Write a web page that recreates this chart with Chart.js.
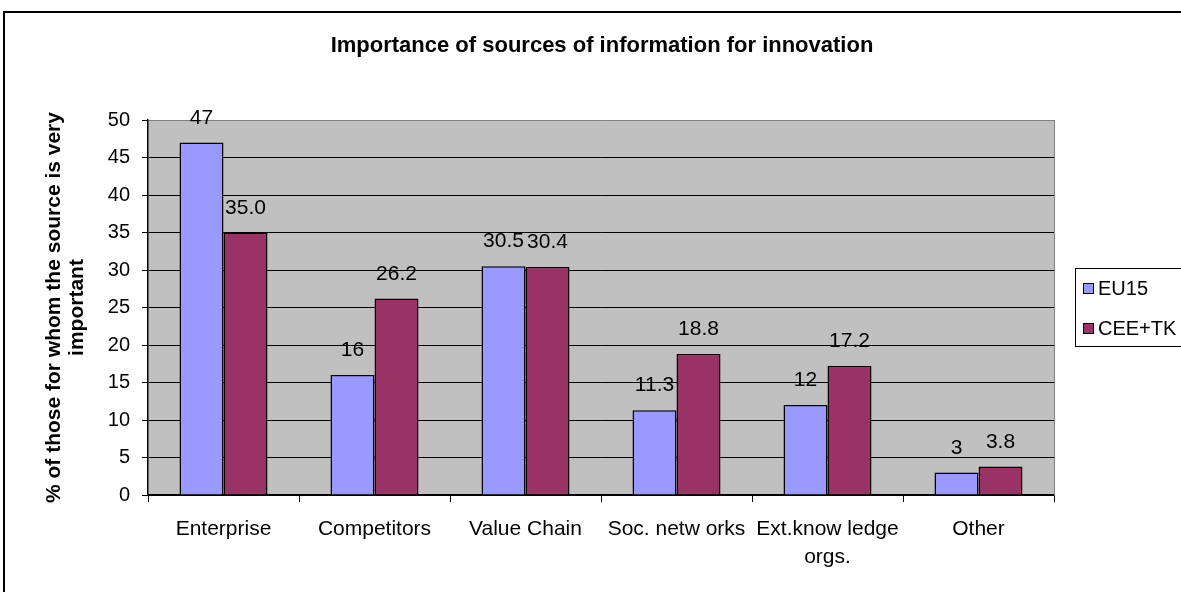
<!DOCTYPE html>
<html>
<head>
<meta charset="utf-8">
<script src="https://cdn.jsdelivr.net/npm/chart.js@4/dist/chart.umd.min.js"></script>
<style>
  html, body { margin: 0; padding: 0; background: #fff; overflow: hidden; }
  #frame { position: absolute; left: 3px; top: 11px; width: 1400px; height: 800px; border: 2px solid #000; }
  #chart { position: absolute; left: 0; top: 0; }
</style>
</head>
<body>
<div id="frame"></div>
<canvas id="chart" width="1181" height="592"></canvas>
<script>
// Importance of sources of information for innovation (EU15 vs CEE+TK)

const TITLE = "Importance of sources of information for innovation";
const Y_TITLE = ["% of those for whom the source is very", "important"];

const categories = ["Enterprise", "Competitors", "Value Chain", "Soc. netw orks", ["Ext.know ledge", "orgs."], "Other"];
const eu15 = [47, 16, 30.5, 11.3, 12, 3];
const ceeTk = [35.0, 26.2, 30.4, 18.8, 17.2, 3.8];

const FONT = "'Liberation Sans', Arial, sans-serif";

// fond gris de la zone de tracé + bord droit gris
const plotBg = {
  id: "plotBg",
  beforeDraw(chart) {
    const { ctx, chartArea: a } = chart;
    ctx.save();
    ctx.fillStyle = "#c0c0c0";
    ctx.fillRect(a.left, a.top, a.right - a.left, a.bottom - a.top);
    ctx.restore();
  },
  beforeDatasetsDraw(chart) {
    const { ctx, chartArea: a } = chart;
    ctx.save();
    ctx.strokeStyle = "#808080";
    ctx.lineWidth = 1;
    ctx.beginPath();
    ctx.moveTo(a.right + 0.5, a.top);
    ctx.lineTo(a.right + 0.5, a.bottom);
    ctx.stroke();
    ctx.restore();
  },
};

// titre, étiquettes de valeurs, légende encadrée
const extras = {
  id: "extras",
  afterDraw(chart) {
    const ctx = chart.ctx;
    ctx.save();
    ctx.fillStyle = "#000";
    ctx.font = "bold 22px " + FONT;
    ctx.textAlign = "center";
    ctx.textBaseline = "middle";
    ctx.fillText(TITLE, 602, 46);

    // valeurs au-dessus des barres
    ctx.font = "21px " + FONT;
    ctx.textBaseline = "alphabetic";
    chart.data.datasets.forEach((ds, i) => {
      chart.getDatasetMeta(i).data.forEach((bar, j) => {
        const v = ds.data[j];
        const txt = i === 0 ? String(v) : v.toFixed(1);
        ctx.fillText(txt, bar.x, bar.y - 19);
      });
    });

    // légende
    ctx.fillStyle = "#fff";
    ctx.strokeStyle = "#000";
    ctx.lineWidth = 1;
    ctx.fillRect(1075.5, 268.5, 200, 78);
    ctx.strokeRect(1075.5, 268.5, 200, 78);
    ctx.font = "20px " + FONT;
    ctx.textAlign = "left";
    ctx.textBaseline = "middle";
    chart.data.datasets.forEach((ds, i) => {
      const y = 283 + i * 40;
      ctx.fillStyle = ds.backgroundColor;
      ctx.fillRect(1083.5, y + 0.5, 10, 10);
      ctx.strokeRect(1083.5, y + 0.5, 10, 10);
      ctx.fillStyle = "#000";
      ctx.fillText(ds.label, 1098, y + 6);
    });
    ctx.restore();
  },
};

Chart.defaults.font.family = FONT;
Chart.defaults.color = "#000";

new Chart(document.getElementById("chart"), {
  type: "bar",
  data: {
    labels: categories,
    datasets: [
      { label: "EU15", data: eu15, backgroundColor: "#9999ff", borderColor: "#000", borderWidth: 1.5 },
      { label: "CEE+TK", data: ceeTk, backgroundColor: "#993366", borderColor: "#000", borderWidth: 1.5 },
    ],
  },
  options: {
    responsive: false,
    animation: false,
    layout: { padding: { top: 120, right: 127, bottom: 0, left: 0 } },
    categoryPercentage: 0.583,
    barPercentage: 1,
    plugins: {
      legend: { display: false },
      tooltip: { enabled: false },
    },
    scales: {
      y: {
        min: 0,
        max: 50,
        afterFit: (s) => { s.width = 148; },
        ticks: { stepSize: 5, padding: 12, font: { size: 20 }, color: "#000" },
        grid: {
          color: (c) => (c.tick && c.tick.value === 50 ? "#808080" : "#000"),
          tickColor: "#000",
          tickLength: 6,
          lineWidth: 1,
        },
        border: { display: true, color: "#000", width: 1.5 },
        title: {
          display: true,
          text: Y_TITLE,
          font: { size: 21, weight: "bold", lineHeight: 1.1 },
          padding: { top: 43, bottom: 0 },
          color: "#000",
        },
      },
      x: {
        afterFit: (s) => { s.height = 97; },
        ticks: { font: { size: 21, lineHeight: 1.35 }, padding: 13, color: "#000", maxRotation: 0, autoSkip: false },
        grid: { drawOnChartArea: false, drawTicks: true, tickLength: 7, tickColor: "#000", color: "#000" },
        border: { display: true, color: "#000", width: 1.5 },
      },
    },
  },
  plugins: [plotBg, extras],
});
</script>
</body>
</html>
